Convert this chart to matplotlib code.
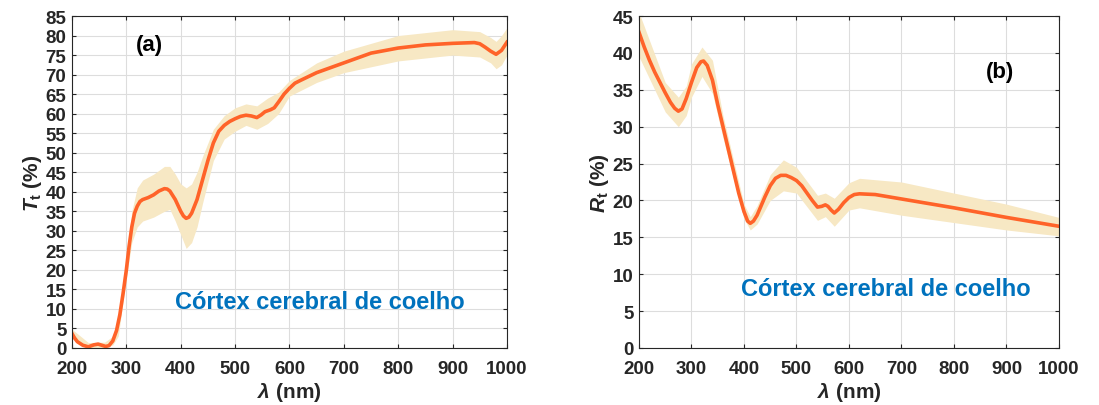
import matplotlib
matplotlib.use("Agg")
import matplotlib.pyplot as plt

# ── Dados (a): transmitância total ─────────────────────────────────────────────
wl_a = [200, 205, 210, 220, 230, 240, 248, 255, 262, 268, 275, 282, 288, 294, 300,
        305, 310, 315, 320, 325, 330, 340, 350, 360, 370, 375, 380, 390, 400, 405,
        410, 415, 420, 430, 440, 450, 460, 470, 480, 490, 500, 510, 520, 530, 540,
        548, 555, 565, 572, 580, 590, 600, 610, 620, 650, 700, 750, 800, 850, 900,
        940, 950, 960, 970, 980, 990, 1000]
tt_mean = [3.7, 2.5, 1.6, 0.7, 0.3, 0.8, 1.0, 0.7, 0.4, 0.6, 1.8, 4.5, 8.5, 14.0, 20.0,
           26.0, 31.0, 34.5, 36.3, 37.5, 38.0, 38.5, 39.2, 40.2, 40.8, 40.7, 40.2, 38.0, 35.0, 33.8,
           33.2, 33.5, 34.5, 38.0, 43.0, 48.0, 52.5, 55.5, 57.0, 58.0, 58.7, 59.3, 59.6, 59.4, 59.0,
           59.7, 60.5, 61.0, 61.5, 63.0, 65.0, 66.5, 67.8, 68.5, 70.5, 73.0, 75.5, 76.8, 77.6, 78.0,
           78.2, 77.9, 77.0, 76.0, 75.2, 76.2, 78.3]

wl_a_band = [200, 230, 260, 275, 285, 300, 310, 320, 330, 350, 370, 380, 390, 400, 410,
             420, 430, 440, 460, 480, 500, 520, 540, 560, 580, 600, 650, 700, 800, 900,
             950, 970, 980, 990, 1000]
tt_up = [4.8, 1.4, 1.5, 3.0, 7.0, 22.0, 35.0, 41.0, 43.0, 44.5, 46.5, 46.5, 44.5, 42.0, 41.0,
         42.0, 45.0, 49.0, 56.0, 59.5, 61.5, 62.5, 62.0, 64.0, 65.5, 68.5, 73.0, 76.0, 80.0, 81.5,
         81.0, 79.5, 78.5, 80.0, 82.0]
tt_low = [2.6, 0.0, 0.0, 0.8, 3.0, 18.0, 27.0, 31.0, 32.5, 33.5, 35.0, 35.5, 32.5, 29.0, 25.5,
          27.0, 31.0, 37.0, 48.0, 53.5, 55.5, 57.0, 56.0, 57.5, 60.0, 64.5, 68.0, 70.5, 73.5, 75.0,
          74.5, 73.0, 71.5, 72.5, 75.0]

# ── Dados (b): reflectância total ──────────────────────────────────────────────
wl_b = [200, 210, 220, 230, 240, 250, 260, 268, 275, 282, 290, 300, 310, 318, 323,
        330, 340, 350, 360, 370, 380, 390, 400, 407, 412, 418, 425, 440, 450, 460,
        470, 480, 490, 500, 510, 520, 530, 540, 548, 555, 560, 566, 572, 580, 590,
        600, 610, 620, 650, 700, 800, 900, 1000]
rt_mean = [42.8, 40.8, 39.0, 37.4, 36.0, 34.6, 33.3, 32.5, 32.1, 32.4, 33.8, 36.0, 38.0, 38.8, 38.9,
           38.3, 36.3, 33.0, 30.0, 27.0, 24.0, 21.0, 18.5, 17.2, 16.9, 17.2, 18.0, 20.5, 22.0, 23.0,
           23.4, 23.4, 23.1, 22.7, 22.0, 21.0, 20.0, 19.1, 19.2, 19.4, 19.2, 18.7, 18.3, 18.8, 19.7,
           20.4, 20.8, 20.9, 20.8, 20.2, 19.0, 17.7, 16.5]

wl_b_band = [200, 250, 275, 290, 300, 320, 340, 360, 400, 412, 425, 450, 475, 500, 540,
             555, 572, 600, 620, 700, 800, 900, 1000]
rt_up = [45.5, 36.0, 34.0, 35.5, 38.5, 40.8, 39.0, 31.5, 19.5, 17.8, 19.3, 23.5, 25.5, 24.5, 20.7,
         21.0, 20.3, 22.4, 23.0, 22.5, 21.0, 19.5, 17.7]
rt_low = [39.5, 32.0, 30.0, 31.5, 34.0, 36.8, 34.5, 28.5, 17.5, 16.0, 16.8, 20.0, 21.3, 21.0, 17.3,
          17.8, 16.5, 18.7, 19.0, 18.0, 17.0, 16.0, 15.2]

LINE_COLOR = "#FF6329"
BAND_COLOR = "#F7E8C4"
TXT_BLUE = "#0072BD"
DARK = "#262626"

plt.rcParams["font.family"] = ["Liberation Sans", "DejaVu Sans"]
plt.rcParams["font.weight"] = "bold"
plt.rcParams["mathtext.fontset"] = "custom"
plt.rcParams["mathtext.it"] = "Liberation Sans:italic:bold"
plt.rcParams["mathtext.rm"] = "Liberation Sans:bold"
plt.rcParams["mathtext.bf"] = "Liberation Sans:bold"

fig = plt.figure(figsize=(10.99, 4.06), dpi=100)
ax_a = fig.add_axes([0.0655, 0.1404, 0.3958, 0.8177])
ax_b = fig.add_axes([0.5814, 0.1404, 0.3822, 0.8177])


def estilo(ax, ymax, ylabel):
    ax.set_xlim(200, 1000)
    ax.set_ylim(0, ymax)
    ax.set_xticks(range(200, 1001, 100))
    ax.set_yticks(range(0, ymax + 1, 5))
    ax.grid(True, color="#DDDDDD", linewidth=0.8)
    ax.set_axisbelow(True)
    ax.tick_params(direction="in", length=3, labelsize=13.5, colors=DARK,
                   top=True, right=True, width=0.8)
    ax.tick_params(axis="y", pad=4)
    ax.tick_params(axis="x", pad=9)
    for lab in ax.get_xticklabels() + ax.get_yticklabels():
        lab.set_fontweight("bold")
    for sp in ax.spines.values():
        sp.set_color(DARK)
        sp.set_linewidth(0.8)
    ax.set_xlabel(r"$\lambda$ (nm)", fontsize=15, fontweight="bold", color=DARK, labelpad=2)
    ax.set_ylabel(ylabel, fontsize=15, fontweight="bold", color=DARK, labelpad=1)


ax_a.fill_between(wl_a_band, tt_low, tt_up, color=BAND_COLOR, linewidth=0)
ax_a.plot(wl_a, tt_mean, color=LINE_COLOR, linewidth=2.6, solid_joinstyle="round")
estilo(ax_a, 85, r"$T_{\rm t}$ (%)")
ax_a.text(343, 77.8, "(a)", fontsize=16, fontweight="bold", ha="center", va="center")
ax_a.text(656, 12, "Córtex cerebral de coelho", fontsize=17, fontweight="bold",
          color=TXT_BLUE, ha="center", va="center")

ax_b.fill_between(wl_b_band, rt_low, rt_up, color=BAND_COLOR, linewidth=0)
ax_b.plot(wl_b, rt_mean, color=LINE_COLOR, linewidth=2.6, solid_joinstyle="round")
estilo(ax_b, 45, r"$R_{\rm t}$ (%)")
ax_b.text(888, 37.5, "(b)", fontsize=16, fontweight="bold", ha="center", va="center")
ax_b.text(670, 8.0, "Córtex cerebral de coelho", fontsize=17, fontweight="bold",
          color=TXT_BLUE, ha="center", va="center")

fig.savefig("out.png", dpi=100)
